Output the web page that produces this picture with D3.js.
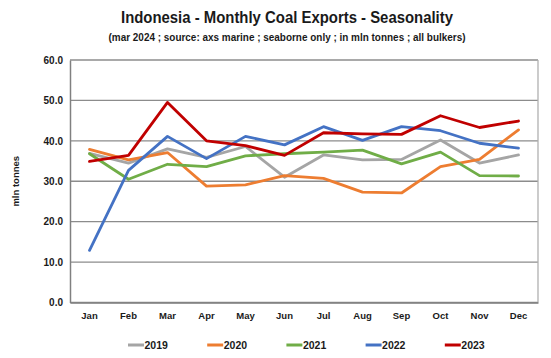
<!DOCTYPE html>
<html lang="en">
<head>
<meta charset="UTF-8">
<title>Indonesia - Monthly Coal Exports - Seasonality</title>
<script src="https://cdnjs.cloudflare.com/ajax/libs/d3/7.8.5/d3.min.js"></script>
<style>
  body { margin: 0; background: #fff; font-family: "Liberation Sans", Arial, sans-serif; }
  text { font-weight: bold; fill: #1a1a1a; }
</style>
</head>
<body>
<div id="chart"></div>
<script>
// Data (mln tonnes)
const months = ["Jan", "Feb", "Mar", "Apr", "May", "Jun", "Jul", "Aug", "Sep", "Oct", "Nov", "Dec"];
const years = ["2019", "2020", "2021", "2022", "2023"];
const colors = ["#a5a5a5", "#ed7d31", "#70ad47", "#4472c4", "#c00000"];
const v2019 = [36.9, 34.5, 38.0, 35.9, 38.6, 31.0, 36.5, 35.3, 35.4, 40.2, 34.5, 36.5];
const v2020 = [37.9, 35.3, 37.1, 28.8, 29.1, 31.4, 30.7, 27.3, 27.1, 33.6, 35.4, 42.7];
const v2021 = [36.8, 30.5, 34.2, 33.6, 36.3, 36.8, 37.2, 37.7, 34.3, 37.2, 31.4, 31.3];
const v2022 = [12.9, 32.7, 41.1, 35.6, 41.1, 39.0, 43.5, 40.1, 43.5, 42.5, 39.4, 38.2];
const v2023 = [34.9, 36.4, 49.5, 40.0, 38.8, 36.4, 42.0, 41.7, 41.6, 46.2, 43.3, 44.9];
const yTicks = [0, 10, 20, 30, 40, 50, 60];

const series = [v2019, v2020, v2021, v2022, v2023];

const width = 551, height = 358;
const margin = { top: 60, right: 13, bottom: 55.5, left: 70 };

const svg = d3.select("#chart").append("svg")
  .attr("width", width)
  .attr("height", height);

const x = d3.scaleBand()
  .domain(months)
  .range([margin.left, width - margin.right]);

const y = d3.scaleLinear()
  .domain([0, 60])
  .range([height - margin.bottom, margin.top]);

// Titles
svg.append("text")
  .attr("x", 287).attr("y", 23)
  .attr("text-anchor", "middle")
  .style("font-size", "17px")
  .attr("textLength", 332).attr("lengthAdjust", "spacingAndGlyphs")
  .text("Indonesia - Monthly Coal Exports - Seasonality");

svg.append("text")
  .attr("x", 287).attr("y", 41)
  .attr("text-anchor", "middle")
  .style("font-size", "10.5px")
  .attr("textLength", 357).attr("lengthAdjust", "spacingAndGlyphs")
  .text("(mar 2024 ; source: axs marine ; seaborne only ; in mln tonnes ; all bulkers)");

// Gridlines
svg.append("g")
  .selectAll("line")
  .data(yTicks)
  .join("line")
  .attr("x1", margin.left)
  .attr("x2", width - margin.right)
  .attr("y1", d => y(d))
  .attr("y2", d => y(d))
  .attr("stroke", "#8c8c8c")
  .attr("stroke-width", 1.3);

// Right border
svg.append("line")
  .attr("x1", width - margin.right).attr("x2", width - margin.right)
  .attr("y1", y(60)).attr("y2", y(0))
  .attr("stroke", "#b0b0b0").attr("stroke-width", 1.3);

// Y axis
const yAxis = svg.append("g")
  .attr("transform", `translate(${margin.left},0)`)
  .call(d3.axisLeft(y).tickValues(yTicks).tickFormat(d3.format(".1f")).tickSize(0).tickPadding(7));
yAxis.select(".domain").attr("stroke", "#808080").attr("stroke-width", 1.5);
yAxis.selectAll("text").style("font-size", "10px").attr("fill", "#1a1a1a");

// X axis
const xAxis = svg.append("g")
  .attr("transform", `translate(0,${y(0)})`)
  .call(d3.axisBottom(x).tickSize(0).tickPadding(10));
xAxis.select(".domain").attr("stroke", "#808080").attr("stroke-width", 1.5);
xAxis.selectAll("text").style("font-size", "9.5px").attr("fill", "#1a1a1a");

// Y axis title
svg.append("text")
  .attr("transform", `translate(19,${(y(0) + y(60)) / 2}) rotate(-90)`)
  .attr("text-anchor", "middle")
  .style("font-size", "9.5px")
  .text("mln tonnes");

// Lines
const line = d3.line()
  .x((d, i) => x(months[i]) + x.bandwidth() / 2)
  .y(d => y(d));

svg.append("g")
  .selectAll("path")
  .data(series)
  .join("path")
  .attr("d", line)
  .attr("fill", "none")
  .attr("stroke", (d, i) => colors[i])
  .attr("stroke-width", 2.8)
  .attr("stroke-linejoin", "round")
  .attr("stroke-linecap", "round");

// Legend
const legend = svg.append("g")
  .selectAll("g")
  .data(years)
  .join("g")
  .attr("transform", (d, i) => `translate(${128 + i * 79.2},345)`);

legend.append("line")
  .attr("x1", 0).attr("x2", 16)
  .attr("stroke", (d, i) => colors[i])
  .attr("stroke-width", 3);

legend.append("text")
  .attr("x", 16.5).attr("y", 4)
  .style("font-size", "10.5px")
  .text(d => d);
</script>
</body>
</html>
